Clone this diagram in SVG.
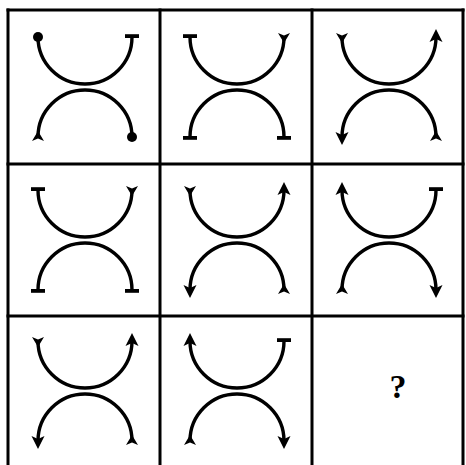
<svg xmlns="http://www.w3.org/2000/svg" width="466" height="465" viewBox="0 0 466 465">
<style>
.arc{fill:none;stroke:#000;stroke-width:3.4;stroke-linecap:butt}
.grid{stroke:#000;stroke-width:3;fill:none}
.q{font-family:"Liberation Serif","DejaVu Serif",serif;font-weight:bold;font-size:34px;fill:#000}
</style>
<defs>
<marker id="arrow" markerUnits="userSpaceOnUse" markerWidth="20" markerHeight="20" refX="0" refY="0" orient="auto-start-reverse" overflow="visible">
<path d="M8 0 L-5 -6.5 L-2 0 L-5 6.5 Z" fill="#000"/>
</marker>
<marker id="fork" markerUnits="userSpaceOnUse" markerWidth="20" markerHeight="20" refX="0" refY="0" orient="auto-start-reverse" overflow="visible">
<path d="M-6 0 L4 -6 L1.5 0 L4 6 Z" fill="#000"/>
</marker>
<marker id="bar" markerUnits="userSpaceOnUse" markerWidth="20" markerHeight="20" refX="0" refY="0" orient="auto-start-reverse" overflow="visible">
<rect x="-1" y="-7" width="3.8" height="14" fill="#000"/>
</marker>
<marker id="dot" markerUnits="userSpaceOnUse" markerWidth="20" markerHeight="20" refX="0" refY="0" orient="auto" overflow="visible">
<circle cx="0" cy="0" r="5" fill="#000"/>
</marker>
</defs>
<rect width="466" height="465" fill="#fff"/>
<g id="grid">
<line class="grid" x1="8" y1="8.5" x2="8" y2="466"/>
<line class="grid" x1="160" y1="8.5" x2="160" y2="466"/>
<line class="grid" x1="312" y1="8.5" x2="312" y2="466"/>
<line class="grid" x1="463" y1="8.5" x2="463" y2="466"/>
<line class="grid" x1="6.5" y1="10" x2="464.5" y2="10"/>
<line class="grid" x1="6.5" y1="164" x2="464.5" y2="164"/>
<line class="grid" x1="6.5" y1="316" x2="464.5" y2="316"/>
</g>
<g id="cell1" transform="translate(8,10)">
<path class="arc" d="M30 27 A47 47 0 0 0 124 27" marker-start="url(#dot)" marker-end="url(#bar)"/>
<path class="arc" d="M30 127 A47 47 0 0 1 124 127" marker-start="url(#fork)" marker-end="url(#dot)"/>
</g>
<g id="cell2" transform="translate(160,10)">
<path class="arc" d="M30 27 A47 47 0 0 0 124 27" marker-start="url(#bar)" marker-end="url(#fork)"/>
<path class="arc" d="M30 127 A47 47 0 0 1 124 127" marker-start="url(#bar)" marker-end="url(#bar)"/>
</g>
<g id="cell3" transform="translate(312,10)">
<path class="arc" d="M30 27 A47 47 0 0 0 124 27" marker-start="url(#fork)" marker-end="url(#arrow)"/>
<path class="arc" d="M30 127 A47 47 0 0 1 124 127" marker-start="url(#arrow)" marker-end="url(#fork)"/>
</g>
<g id="cell4" transform="translate(8,164)">
<path class="arc" d="M30 26 A47 47 0 0 0 124 26" marker-start="url(#bar)" marker-end="url(#fork)"/>
<path class="arc" d="M30 126 A47 47 0 0 1 124 126" marker-start="url(#bar)" marker-end="url(#bar)"/>
</g>
<g id="cell5" transform="translate(160,164)">
<path class="arc" d="M30 26 A47 47 0 0 0 124 26" marker-start="url(#fork)" marker-end="url(#arrow)"/>
<path class="arc" d="M30 126 A47 47 0 0 1 124 126" marker-start="url(#arrow)" marker-end="url(#fork)"/>
</g>
<g id="cell6" transform="translate(312,164)">
<path class="arc" d="M30 26 A47 47 0 0 0 124 26" marker-start="url(#arrow)" marker-end="url(#bar)"/>
<path class="arc" d="M30 126 A47 47 0 0 1 124 126" marker-start="url(#fork)" marker-end="url(#arrow)"/>
</g>
<g id="cell7" transform="translate(8,316)">
<path class="arc" d="M30 25 A47 47 0 0 0 124 25" marker-start="url(#fork)" marker-end="url(#arrow)"/>
<path class="arc" d="M30 125 A47 47 0 0 1 124 125" marker-start="url(#arrow)" marker-end="url(#fork)"/>
</g>
<g id="cell8" transform="translate(160,316)">
<path class="arc" d="M30 25 A47 47 0 0 0 124 25" marker-start="url(#arrow)" marker-end="url(#bar)"/>
<path class="arc" d="M30 125 A47 47 0 0 1 124 125" marker-start="url(#fork)" marker-end="url(#arrow)"/>
</g>
<g id="cell9">
<text class="q" x="398" y="398" text-anchor="middle">?</text>
</g>
</svg>
